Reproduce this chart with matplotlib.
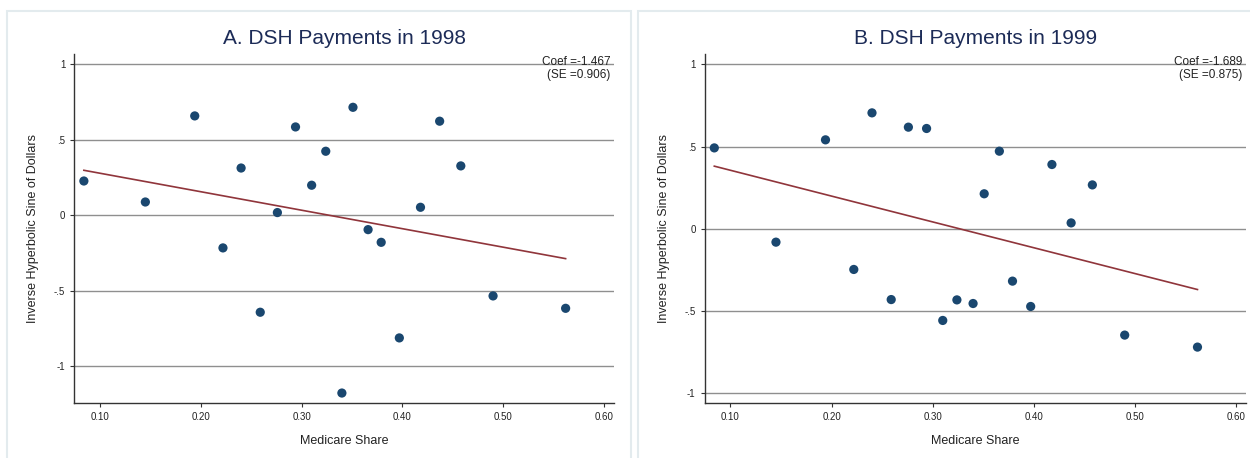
import matplotlib
matplotlib.use("Agg")
import matplotlib.pyplot as plt
from matplotlib.patches import Rectangle

plt.rcParams['font.family'] = ['Liberation Sans', 'DejaVu Sans']

# medicare share of each group (same in both years)
medicare_share = [0.084, 0.145, 0.194, 0.222, 0.240, 0.259, 0.276, 0.294, 0.310, 0.324,
                  0.340, 0.351, 0.366, 0.379, 0.397, 0.418, 0.437, 0.458, 0.490, 0.562]

dsh_1998 = [0.227, 0.088, 0.658, -0.216, 0.313, -0.642, 0.018, 0.585, 0.199, 0.424,
            -1.177, 0.715, -0.095, -0.179, -0.812, 0.053, 0.623, 0.327, -0.534, -0.616]
dsh_1999 = [0.492, -0.081, 0.541, -0.247, 0.705, -0.430, 0.618, 0.610, -0.557, -0.432,
            -0.454, 0.213, 0.472, -0.318, -0.472, 0.391, 0.036, 0.267, -0.646, -0.719]

# fitted line ends (at min / max medicare share)
fit_x = [0.084, 0.562]
fit_1998 = [0.298, -0.287]
fit_1999 = [0.381, -0.369]

titles = ["A. DSH Payments in 1998", "B. DSH Payments in 1999"]
coefs = ["Coef =-1.467", "Coef =-1.689"]
ses = ["(SE =0.906)", "(SE =0.875)"]

xticks = [0.10, 0.20, 0.30, 0.40, 0.50, 0.60]
xticklabels = ["0.10", "0.20", "0.30", "0.40", "0.50", "0.60"]
yticks = [-1, -0.5, 0, 0.5, 1]
yticklabels = ["-1", "-.5", "0", ".5", "1"]

W, H = 1250, 458
fig = plt.figure(figsize=(W / 100, H / 100), dpi=100)

# light panel frames
for x0, x1 in [(7, 631), (638, 1262)]:
    fig.patches.append(Rectangle((x0 / W, -0.05), (x1 - x0) / W, (H - 11) / H + 0.05,
                                 transform=fig.transFigure, fill=False,
                                 edgecolor='#e3ebee', lw=1.5))

navy = '#1a476f'
maroon = '#90353b'

panels = [
    dict(rect=[74.3 / W, (H - 402.7) / H, 539.7 / W, 348.4 / H], y=dsh_1998, fit=fit_1998,
         ylim=(-1.241, 1.066)),
    dict(rect=[704.7 / W, (H - 402.7) / H, 541.3 / W, 348.4 / H], y=dsh_1999, fit=fit_1999,
         ylim=(-1.057, 1.061)),
]

for i, p in enumerate(panels):
    ax = fig.add_axes(p['rect'])
    for yt in yticks:
        ax.axhline(yt, color='#8f8f8f', lw=1.0, zorder=1)
    ax.plot(fit_x, p['fit'], color=maroon, lw=1.2, zorder=2)
    ax.scatter(medicare_share, p['y'], s=44, color=navy, edgecolors='none', zorder=3)

    ax.set_xlim(0.0745, 0.61)
    ax.set_ylim(*p['ylim'])
    ax.set_xticks(xticks)
    ax.set_xticklabels(xticklabels)
    ax.set_yticks(yticks)
    ax.set_yticklabels(yticklabels)
    ax.tick_params(axis='both', labelsize=7, length=3, width=0.8, pad=3.5,
                   color='#333333', labelcolor='#222222')

    for s in ['top', 'right']:
        ax.spines[s].set_visible(False)
    for s in ['left', 'bottom']:
        ax.spines[s].set_color('#333333')
        ax.spines[s].set_linewidth(1.0)

    ax.set_xlabel("Medicare Share", fontsize=9, color='#222222')
    ax.xaxis.set_label_coords(0.5, -0.092)
    ax.set_ylabel("Inverse Hyperbolic Sine of Dollars", fontsize=9, color='#222222')
    ax.yaxis.set_label_coords(-0.065, 0.5)

    ax.text(0.5, 1.044, titles[i], transform=ax.transAxes, ha='center', va='center',
            fontsize=15, color='#1c2b57')
    ax.text(0.994, 0.978, coefs[i], transform=ax.transAxes, ha='right', va='center',
            fontsize=8.5, color='#222222')
    ax.text(0.994, 0.940, ses[i], transform=ax.transAxes, ha='right', va='center',
            fontsize=8.5, color='#222222')

fig.savefig("out.png", dpi=100)
